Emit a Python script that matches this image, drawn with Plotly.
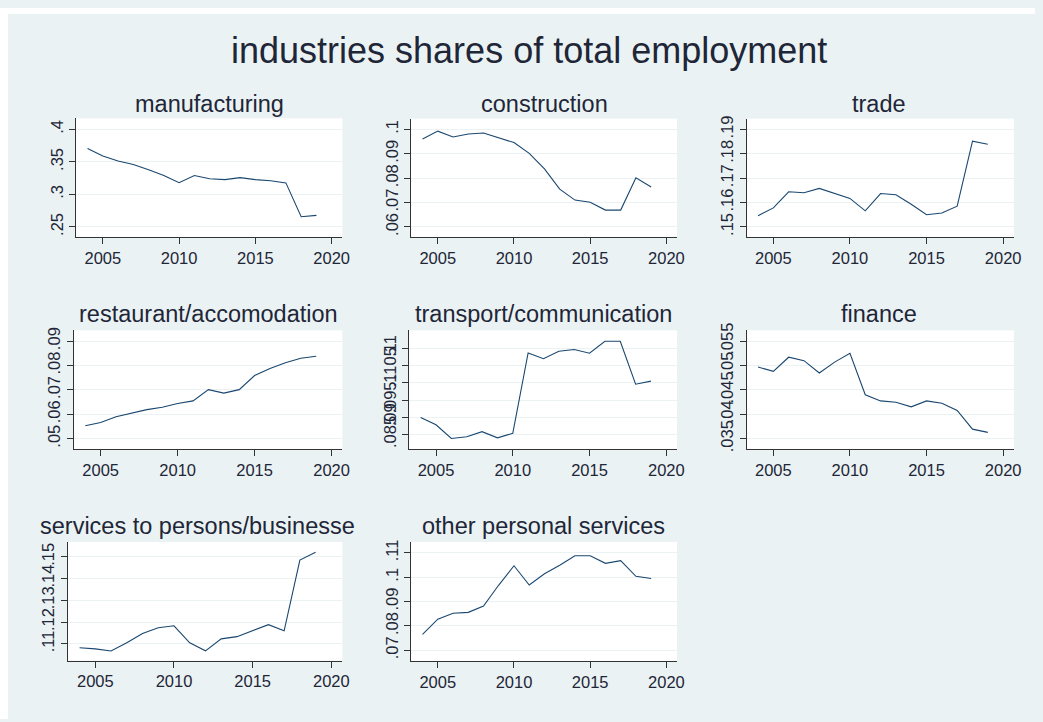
import plotly.graph_objects as go

years = list(range(2004, 2020))

manufacturing = [0.3707, 0.359, 0.3515, 0.346, 0.338, 0.329, 0.318, 0.329, 0.324, 0.3227,
                 0.3258, 0.3227, 0.321, 0.3177, 0.2657, 0.2677]
construction = [0.0961, 0.0993, 0.0969, 0.0981, 0.0985, 0.0964, 0.0946, 0.0902, 0.0838, 0.0755,
                0.0710, 0.0701, 0.0669, 0.0669, 0.0802, 0.0764]
trade = [0.1546, 0.1578, 0.1644, 0.1640, 0.1658, 0.1637, 0.1617, 0.1566, 0.1637, 0.1632,
         0.1593, 0.1550, 0.1557, 0.1585, 0.1852, 0.1839]
restaurant = [0.0553, 0.0566, 0.0590, 0.0606, 0.0619, 0.0629, 0.0644, 0.0655, 0.0701, 0.0687,
              0.0701, 0.0759, 0.0788, 0.0811, 0.0830, 0.0838]
transport = [0.0899, 0.0878, 0.0838, 0.0843, 0.0858, 0.0840, 0.0853, 0.1087, 0.1070, 0.1092,
             0.1097, 0.1086, 0.1121, 0.1121, 0.0996, 0.1005]
finance = [0.04968, 0.04880, 0.0517, 0.0510, 0.04847, 0.0507, 0.0525, 0.0440, 0.04274, 0.04247,
           0.04153, 0.04274, 0.04227, 0.04079, 0.03695, 0.03628]
services = [0.1082, 0.1077, 0.1067, 0.1105, 0.1148, 0.1174, 0.1183, 0.1105, 0.1068, 0.1123,
            0.1133, 0.1160, 0.1188, 0.1160, 0.1485, 0.1521]
other = [0.0766, 0.0828, 0.0852, 0.0856, 0.0882, 0.0968, 0.1047, 0.0968, 0.1014, 0.1049,
         0.1088, 0.1088, 0.1057, 0.1068, 0.1004, 0.0995]

panel_titles = ["manufacturing", "construction", "trade", "restaurant/accomodation",
                "transport/communication", "finance", "services to persons/businesse",
                "other personal services"]
series = [manufacturing, construction, trade, restaurant, transport, finance, services, other]

ytick_vals = [
    [0.25, 0.3, 0.35, 0.4],
    [0.06, 0.07, 0.08, 0.09, 0.1],
    [0.15, 0.16, 0.17, 0.18, 0.19],
    [0.05, 0.06, 0.07, 0.08, 0.09],
    [0.085, 0.09, 0.095, 0.1, 0.105, 0.11],
    [0.035, 0.04, 0.045, 0.05, 0.055],
    [0.11, 0.12, 0.13, 0.14, 0.15],
    [0.07, 0.08, 0.09, 0.1, 0.11],
]
ytick_text = [
    [".25", ".3", ".35", ".4"],
    [".06", ".07", ".08", ".09", ".1"],
    [".15", ".16", ".17", ".18", ".19"],
    [".05", ".06", ".07", ".08", ".09"],
    [".085", ".09", ".095", ".1", ".105", ".11"],
    [".035", ".04", ".045", ".05", ".055"],
    [".11", ".12", ".13", ".14", ".15"],
    [".07", ".08", ".09", ".1", ".11"],
]
xtick_vals = [2005, 2010, 2015, 2020]
xtick_text = ["2005", "2010", "2015", "2020"]

W, H = 1043, 722
boxes = [  # left, right, top, bottom (pixels)
    (76.7, 345.0, 112.0, 232.7),
    (414.3, 682.3, 112.3, 232.7),
    (752.3, 1021.7, 112.3, 232.7),
    (74.3, 345.0, 327.3, 448.3),
    (412.3, 682.3, 327.3, 448.3),
    (752.3, 1021.7, 327.3, 448.3),
    (68.3, 345.0, 542.3, 662.7),
    (414.3, 682.3, 542.3, 663.3),
]
yranges = [
    (0.2342, 0.4171),
    (0.0558, 0.10444),
    (0.1458, 0.19444),
    (0.04556, 0.09444),
    (0.08062, 0.11527),
    (0.03278, 0.05722),
    (0.1023, 0.1568),
    (0.06556, 0.11444),
]
title_centers = [(211, 97), (549, 97), (886, 97), (210, 311), (548, 311), (886, 311),
                 (199, 526), (548, 526)]

BG = "#EAF2F3"
LINE = "#1A476F"
AX = "#333333"
TXT = "#1e2638"
FONT = "Liberation Sans, Arial, sans-serif"

fig = go.Figure()
layout = dict(
    width=W, height=H,
    margin=dict(l=0, r=0, t=0, b=0),
    paper_bgcolor=BG, plot_bgcolor="white",
    showlegend=False,
    font=dict(family=FONT, color=TXT, size=16.5),
    annotations=[], shapes=[],
)

for i, (name, vals) in enumerate(zip(panel_titles, series)):
    k = "" if i == 0 else str(i + 1)
    fig.add_trace(go.Scatter(x=years, y=vals, mode="lines",
                             line=dict(color=LINE, width=1.1),
                             xaxis="x" + k, yaxis="y" + k, hoverinfo="skip"))
    l, r, t, b = boxes[i]
    layout["xaxis" + k] = dict(
        domain=[l / W, r / W], anchor="y" + k, range=[2003.25, 2020.7],
        tickvals=xtick_vals, ticktext=xtick_text, ticks="outside", ticklen=6,
        tickcolor=AX, tickwidth=1, showline=True, linecolor=AX, linewidth=1,
        showgrid=False, zeroline=False, tickfont=dict(size=16.5, color=TXT),
    )
    layout["yaxis" + k] = dict(
        domain=[1 - b / H, 1 - t / H], anchor="x" + k, range=list(yranges[i]),
        tickvals=ytick_vals[i], ticktext=ytick_text[i], ticks="outside", ticklen=6,
        tickcolor=AX, tickwidth=1, showline=True, linecolor=AX, linewidth=1,
        showgrid=True, gridcolor=BG, gridwidth=1, zeroline=False,
        tickangle=-90, tickfont=dict(size=16.5, color=TXT),
    )
    cx, cy = title_centers[i]
    layout["annotations"].append(dict(
        text=name, x=cx / W, y=1 - cy / H, xref="paper", yref="paper",
        xanchor="center", yanchor="middle", showarrow=False,
        font=dict(size=23.5, color=TXT, family=FONT)))

layout["annotations"].append(dict(
    text="industries shares of total employment", x=533 / W, y=1 - 43 / H,
    xref="paper", yref="paper", xanchor="center", yanchor="middle", showarrow=False,
    font=dict(size=36, color=TXT, family=FONT)))

# thin white strips along the left and top edges, as in the reference image
layout["shapes"] = [
    dict(type="rect", xref="paper", yref="paper", x0=0, x1=8 / W, y0=0, y1=1,
         fillcolor="white", line=dict(width=0), layer="above"),
    dict(type="rect", xref="paper", yref="paper", x0=0, x1=1, y0=1 - 6 / H, y1=1,
         fillcolor="white", line=dict(width=0), layer="above"),
]

fig.update_layout(**layout)
fig.write_html("out.html")
